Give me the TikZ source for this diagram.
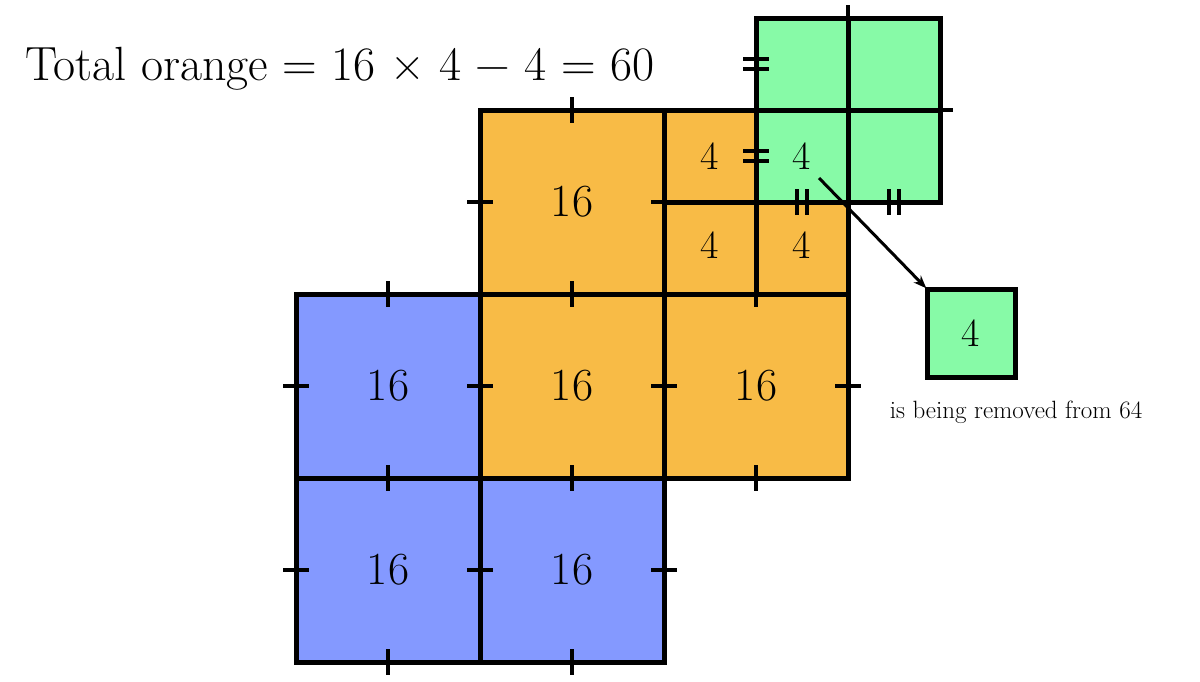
\documentclass[tikz,border=0pt]{standalone}
\usetikzlibrary{calc,arrows.meta}
\definecolor{orng}{RGB}{248,187,70}
\definecolor{blu}{RGB}{132,153,255}
\definecolor{grn}{RGB}{135,250,167}
\newcommand\bignum{\fontsize{46}{50}\selectfont}
\newcommand\smallnum{\fontsize{40}{44}\selectfont}
\newcommand\titlefnt{\fontsize{48}{52}\selectfont}
\newcommand\capfnt{\fontsize{25}{28}\selectfont}
\begin{document}
\begin{tikzpicture}[x=1pt,y=-1pt,
  sq/.style={draw=black,line width=5pt,minimum size=184pt,inner sep=0pt,outer sep=0pt,font=\bignum},
  osq/.style={sq,fill=orng},
  bsq/.style={sq,fill=blu},
  gsq/.style={sq,fill=grn},
  edge/.style={line width=5pt},
  tk/.style={line width=3.2pt},
  lbl/.style={font=\smallnum,inner sep=0pt}]
\useasboundingbox (0,0) rectangle (1200,681);
% squares
\node[osq] (o1) at (572,202) {16};
\node[osq] (o2) at (572,386) {16};
\node[osq] (o3) at (756,386) {16};
\node[osq] (o4) at (756,202) {};
\node[bsq] (b1) at (388,386) {16};
\node[bsq] (b2) at (388,570) {16};
\node[bsq] (b3) at (572,570) {16};
\draw[edge] (o4.west) -- (o4.center) -- (o4.south);
\node[gsq] (g) at (848,110) {};
\draw[edge] (g.north) -- (g.south) (g.west) -- (g.east);
% ticks
\foreach \n in {o1,o2,o3,o4,b1,b2,b3,g}{
  \draw[tk] ($(\n.north)+(0,-13)$) -- ($(\n.north)+(0,13)$);
  \draw[tk] ($(\n.south)+(0,-13)$) -- ($(\n.south)+(0,13)$);
  \draw[tk] ($(\n.west)+(-13,0)$) -- ($(\n.west)+(13,0)$);
  \draw[tk] ($(\n.east)+(-13,0)$) -- ($(\n.east)+(13,0)$);
}
% equal marks
\coordinate (e1) at ($(g.north west)!0.25!(g.south west)$);
\coordinate (e2) at ($(g.north west)!0.75!(g.south west)$);
\coordinate (e3) at ($(g.south west)!0.25!(g.south east)$);
\coordinate (e4) at ($(g.south west)!0.75!(g.south east)$);
\foreach \e in {e1,e2}{
  \draw[tk] ($(\e)+(-13,-5)$) -- ($(\e)+(13,-5)$);
  \draw[tk] ($(\e)+(-13,5)$) -- ($(\e)+(13,5)$);
}
\foreach \e in {e3,e4}{
  \draw[tk] ($(\e)+(-5,-13)$) -- ($(\e)+(-5,13)$);
  \draw[tk] ($(\e)+(5,-13)$) -- ($(\e)+(5,13)$);
}
% quarter labels
\node[lbl] (q1) at (710,156) {4};
\node[lbl] (q2) at (802,156) {4};
\node[lbl] (q3) at (710,245) {4};
\node[lbl] (q4) at (802,245) {4};
% removed square
\node[gsq,minimum size=88pt,font=\smallnum] (rm) at (971,333) {4};
\coordinate (as) at (819,178);
\draw[line width=3pt,-{Stealth[length=13pt,width=10pt]},shorten >=1pt] (as) -- (rm.north west);
\node[font=\capfnt,anchor=base,inner sep=0pt] (cap) at (1016,418) {is being removed from 64};
% title
\node[font=\titlefnt,anchor=base west,inner sep=0pt] (title) at (25,80) {Total orange = 16 × 4 − 4 = 60};
\end{tikzpicture}
\end{document}
